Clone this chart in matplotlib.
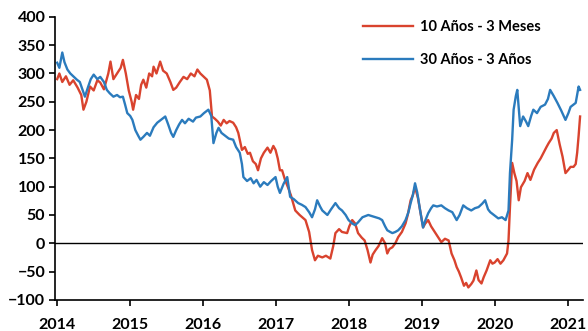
import matplotlib
matplotlib.use("Agg")
import matplotlib.pyplot as plt

plt.rcParams['font.family'] = ['Lato', 'DejaVu Sans']

# 10 Años - 3 Meses (pb)
red_x = [2014.00, 2014.03, 2014.07, 2014.12, 2014.17, 2014.22, 2014.28, 2014.33, 2014.36, 2014.40,
         2014.45, 2014.50, 2014.55, 2014.59, 2014.64, 2014.70, 2014.73, 2014.77, 2014.82, 2014.87,
         2014.90, 2014.94, 2014.98, 2015.02, 2015.04, 2015.08, 2015.12, 2015.15, 2015.18, 2015.22,
         2015.26, 2015.30, 2015.32, 2015.36, 2015.41, 2015.45, 2015.50, 2015.55, 2015.59, 2015.63,
         2015.68, 2015.73, 2015.78, 2015.83, 2015.88, 2015.92, 2015.96, 2016.00, 2016.05, 2016.09,
         2016.12, 2016.16, 2016.20, 2016.24, 2016.28, 2016.32, 2016.36, 2016.41, 2016.45, 2016.48,
         2016.53, 2016.57, 2016.61, 2016.64, 2016.68, 2016.72, 2016.75, 2016.79, 2016.83, 2016.88,
         2016.92, 2016.96, 2016.99, 2017.02, 2017.05, 2017.08, 2017.12, 2017.16, 2017.20, 2017.26,
         2017.32, 2017.40, 2017.45, 2017.49, 2017.53, 2017.57, 2017.63, 2017.68, 2017.74, 2017.78,
         2017.81, 2017.86, 2017.90, 2017.97, 2018.00, 2018.04, 2018.08, 2018.12, 2018.17, 2018.21,
         2018.25, 2018.29, 2018.32, 2018.36, 2018.40, 2018.45, 2018.49, 2018.52, 2018.55, 2018.59,
         2018.63, 2018.67, 2018.72, 2018.77, 2018.80, 2018.84, 2018.87, 2018.90, 2018.94, 2018.97,
         2019.01, 2019.04, 2019.08, 2019.12, 2019.18, 2019.22, 2019.26, 2019.31, 2019.36, 2019.40,
         2019.44, 2019.47, 2019.50, 2019.53, 2019.57, 2019.60, 2019.63, 2019.67, 2019.70, 2019.74,
         2019.77, 2019.81, 2019.84, 2019.88, 2019.93, 2019.96, 2019.99, 2020.03, 2020.07, 2020.11,
         2020.16, 2020.18, 2020.20, 2020.23, 2020.26, 2020.29, 2020.32, 2020.35, 2020.40, 2020.44,
         2020.48, 2020.53, 2020.58, 2020.62, 2020.66, 2020.70, 2020.73, 2020.77, 2020.80, 2020.84,
         2020.88, 2020.92, 2020.96, 2021.00, 2021.03, 2021.07, 2021.10, 2021.12, 2021.14, 2021.16]
red_y = [290, 300, 285, 295, 280, 288, 275, 262, 236, 250,
         277, 270, 288, 284, 272, 300, 321, 290, 300, 310,
         324, 300, 270, 250, 236, 262, 255, 280, 289, 275,
         300, 295, 312, 300, 321, 305, 300, 285, 271, 275,
         285, 294, 290, 300, 295, 307, 300, 295, 289, 270,
         224, 220, 215, 208, 218, 212, 216, 213, 205, 195,
         165, 170, 158, 160, 145, 140, 129, 150, 160, 169,
         160, 172, 165, 150, 129, 129, 112, 99, 85, 58,
         50, 41, 20, -12, -30, -22, -25, -22, -27, -5,
         18, 25, 20, 18, 30, 41, 35, 18, 10, 5,
         -12, -34, -20, -12, -5, 9, 0, -18, -10, -7,
         0, 11, 20, 35, 50, 76, 85, 99, 80, 58,
         28, 35, 41, 30, 18, 10, 2, 8, 5, -18,
         -30, -42, -50, -60, -75, -70, -78, -72, -66, -48,
         -65, -71, -60, -48, -30, -36, -34, -28, -36, -30,
         -18, 5, 64, 142, 124, 110, 76, 99, 110, 124,
         112, 130, 142, 150, 160, 170, 177, 185, 195, 200,
         175, 153, 124, 130, 135, 135, 140, 160, 190, 224]

# 30 Años - 3 Años (pb)
blue_x = [2014.00, 2014.03, 2014.07, 2014.10, 2014.14, 2014.18, 2014.22, 2014.27, 2014.31, 2014.35,
          2014.38, 2014.42, 2014.46, 2014.50, 2014.55, 2014.59, 2014.64, 2014.68, 2014.72, 2014.77,
          2014.82, 2014.86, 2014.90, 2014.93, 2014.96, 2015.00, 2015.03, 2015.07, 2015.11, 2015.14,
          2015.18, 2015.23, 2015.27, 2015.32, 2015.37, 2015.42, 2015.48, 2015.52, 2015.56, 2015.59,
          2015.63, 2015.67, 2015.71, 2015.75, 2015.80, 2015.86, 2015.90, 2015.96, 2016.01, 2016.07,
          2016.11, 2016.14, 2016.18, 2016.21, 2016.25, 2016.30, 2016.35, 2016.41, 2016.45, 2016.50,
          2016.53, 2016.55, 2016.60, 2016.65, 2016.69, 2016.73, 2016.78, 2016.83, 2016.88, 2016.93,
          2016.99, 2017.02, 2017.05, 2017.10, 2017.15, 2017.19, 2017.24, 2017.30, 2017.35, 2017.40,
          2017.45, 2017.49, 2017.53, 2017.56, 2017.60, 2017.63, 2017.70, 2017.75, 2017.81, 2017.86,
          2017.90, 2017.95, 2017.99, 2018.04, 2018.08, 2018.12, 2018.18, 2018.26, 2018.31, 2018.36,
          2018.41, 2018.45, 2018.49, 2018.52, 2018.56, 2018.59, 2018.63, 2018.67, 2018.72, 2018.77,
          2018.81, 2018.84, 2018.87, 2018.90, 2018.93, 2018.97, 2019.01, 2019.04, 2019.08, 2019.12,
          2019.15, 2019.20, 2019.26, 2019.31, 2019.36, 2019.41, 2019.47, 2019.51, 2019.56, 2019.61,
          2019.67, 2019.72, 2019.77, 2019.82, 2019.86, 2019.90, 2019.93, 2019.98, 2020.04, 2020.09,
          2020.14, 2020.18, 2020.20, 2020.23, 2020.25, 2020.28, 2020.30, 2020.34, 2020.38, 2020.42,
          2020.45, 2020.49, 2020.52, 2020.57, 2020.62, 2020.68, 2020.72, 2020.75, 2020.80, 2020.85,
          2020.90, 2020.96, 2021.00, 2021.03, 2021.07, 2021.10, 2021.14, 2021.16]
blue_y = [319, 310, 337, 320, 307, 300, 295, 289, 285, 270,
          259, 275, 290, 298, 290, 294, 285, 271, 265, 259,
          262, 258, 259, 245, 230, 225, 218, 200, 190, 183,
          188, 195, 190, 205, 213, 218, 224, 210, 195, 188,
          200, 210, 218, 212, 220, 215, 222, 224, 230, 236,
          225, 177, 195, 204, 195, 190, 185, 183, 170, 160,
          140, 117, 110, 115, 106, 112, 100, 108, 103, 110,
          117, 100, 89, 105, 117, 82, 78, 71, 68, 64,
          55, 46, 60, 76, 65, 58, 50, 60, 71, 62,
          58, 50, 41, 35, 32, 37, 46, 50, 48, 46,
          44, 41, 30, 23, 20, 18, 20, 23, 30, 41,
          55, 71, 85, 106, 90, 58, 28, 40, 53, 62,
          67, 65, 67, 62, 58, 55, 41, 50, 67, 62,
          58, 62, 64, 70, 76, 60, 55, 50, 44, 46,
          41, 58, 124, 183, 236, 260, 271, 207, 224, 215,
          207, 225, 236, 230, 241, 245, 255, 271, 260, 248,
          235, 218, 230, 241, 245, 248, 277, 271]

years = [2014, 2015, 2016, 2017, 2018, 2019, 2020, 2021]
yticks = [-100, -50, 0, 50, 100, 150, 200, 250, 300, 350, 400]

red = '#d9432e'
blue = '#2b7bbd'

fig = plt.figure(figsize=(5.88, 3.31), dpi=100)
ax = fig.add_axes([0.0935, 0.094, 0.898, 0.855])

ax.plot(red_x, red_y, color=red, linewidth=1.7, label='10 Años - 3 Meses')
ax.plot(blue_x, blue_y, color=blue, linewidth=1.7, label='30 Años - 3 Años')
ax.axhline(0, color='black', linewidth=1.0)

ax.set_xlim(2013.97, 2021.2)
ax.set_ylim(-100, 400)
ax.set_xticks(years)
ax.set_xticklabels([str(y) for y in years])
ax.set_yticks(yticks)

for s in ['top', 'right']:
    ax.spines[s].set_visible(False)
for s in ['left', 'bottom']:
    ax.spines[s].set_linewidth(1.2)
ax.tick_params(axis='both', labelsize=11.5, width=1.2, length=4, direction='out')
for lbl in ax.get_xticklabels() + ax.get_yticklabels():
    lbl.set_fontweight('bold')
ax.tick_params(axis='x', pad=9)
ax.tick_params(axis='y', pad=3)

ax.legend(loc='upper right', bbox_to_anchor=(0.945, 1.035), frameon=False,
          prop={'size': 10.5, 'weight': 'bold'}, handlelength=3.4,
          handletextpad=0.5, labelspacing=1.3)

fig.savefig('out.png', dpi=100)
